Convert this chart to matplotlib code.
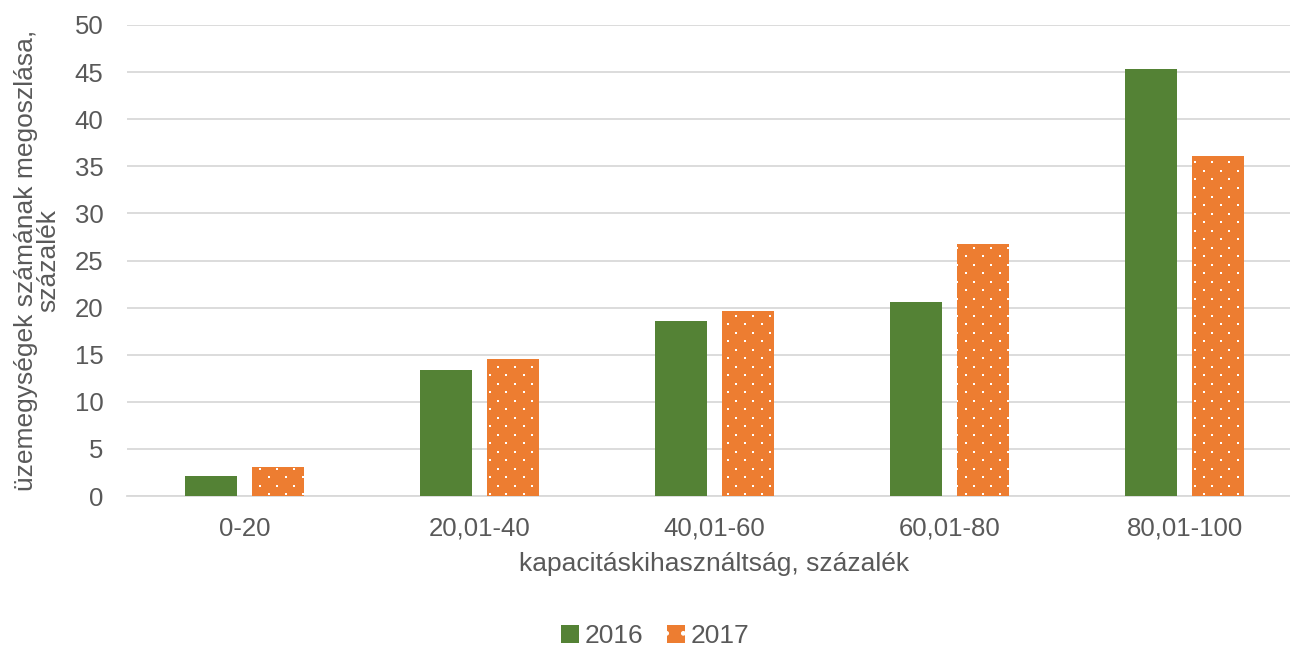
import numpy as np
import matplotlib.pyplot as plt
from matplotlib.patches import Patch

categories = ['0-20', '20,01-40', '40,01-60', '60,01-80', '80,01-100']
share_2016 = [2.1, 13.4, 18.6, 20.6, 45.3]
share_2017 = [3.1, 14.5, 19.6, 26.8, 36.1]

green = '#548235'
orange = '#ED7D31'
grey = '#595959'

plt.rcParams['font.family'] = ['Liberation Sans', 'DejaVu Sans']

W, H = 1290, 648
fig = plt.figure(figsize=(W / 100, H / 100), dpi=100)
ax = fig.add_axes([127 / W, 152 / H, 1175 / W, 471 / H])

x = np.arange(len(categories))
w = 0.221
off = 0.1425

ax.bar(x - off, share_2016, w, color=green, edgecolor='none', zorder=3)
bars17 = ax.bar(x + off, share_2017, w, color=orange, edgecolor='none', zorder=3)

ax.set_xlim(-0.5, 4.5)
ax.set_ylim(0, 50)
ax.set_yticks(range(0, 51, 5))
ax.set_xticks(x)
ax.set_xticklabels(categories)
ax.yaxis.grid(True, color='#D9D9D9', linewidth=1.3, zorder=0)
ax.set_axisbelow(True)
for s in ['top', 'right', 'left']:
    ax.spines[s].set_visible(False)
ax.spines['bottom'].set_color('#D9D9D9')
ax.spines['bottom'].set_linewidth(1.3)

# dotted fill for the 2017 bars: staggered white dots on a 17 px grid,
# laid out in pixel space and clipped to each bar
step = 17
gx, gy = np.meshgrid(np.arange(5, W, step), np.arange(9.5, H, step))
px = np.concatenate([gx.ravel(), gx.ravel() + step / 2])
py = np.concatenate([gy.ravel(), gy.ravel() + step / 2])
pts = ax.transData.inverted().transform(np.column_stack([px, H - py]))
for b in bars17:
    dots = ax.scatter(pts[:, 0], pts[:, 1], s=3, marker='s', color='white',
                      linewidths=0, zorder=4)
    dots.set_clip_path(b)

ax.tick_params(axis='both', length=0, labelsize=18.5, colors=grey)
ax.tick_params(axis='x', pad=15)
ax.tick_params(axis='y', pad=17)

ax.set_xlabel('kapacitáskihasználtság, százalék', fontsize=19, color=grey,
              labelpad=8)
ax.set_ylabel('üzemegységek számának megoszlása,\nszázalék', fontsize=19,
              color=grey, labelpad=10, linespacing=0.95)

handles = [Patch(facecolor=green, edgecolor='none', label='2016'),
           Patch(facecolor=orange, edgecolor='white', linewidth=0, hatch='.',
                 label='2017')]
fig.legend(handles=handles, loc='center', bbox_to_anchor=(655 / W, 1 - 636 / H),
           ncol=2, frameon=False, fontsize=19, labelcolor=grey,
           handlelength=0.7, handleheight=0.7, handletextpad=0.2,
           columnspacing=0.9)

fig.savefig('out.png', dpi=100)
